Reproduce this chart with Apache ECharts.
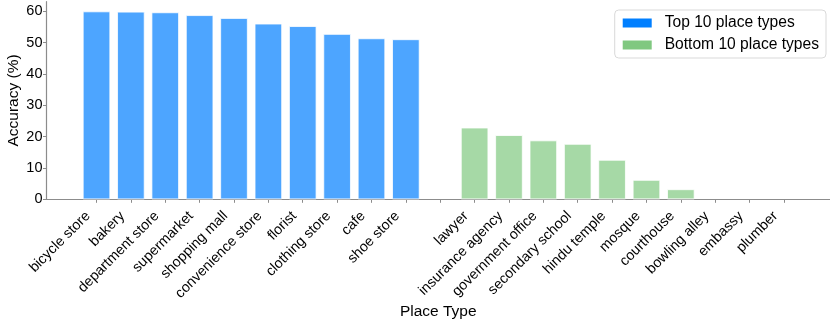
<!DOCTYPE html>
<html>
<head>
<meta charset="utf-8">
<script src="https://cdn.jsdelivr.net/npm/echarts@6/dist/echarts.min.js"></script>
<style>
  html, body { margin: 0; padding: 0; background: #fff; }
  #chart { width: 830px; height: 323px; }
</style>
</head>
<body>
<div id="chart"></div>
<script>
// top 10 / bottom 10 place types by accuracy
const topNames = ['bicycle store', 'bakery', 'department store', 'supermarket', 'shopping mall',
  'convenience store', 'florist', 'clothing store', 'cafe', 'shoe store'];
const topValues = [60.0, 59.9, 59.7, 58.8, 57.9, 56.1, 55.3, 52.8, 51.4, 51.1];

const bottomNames = ['lawyer', 'insurance agency', 'government office', 'secondary school', 'hindu temple',
  'mosque', 'courthouse', 'bowling alley', 'embassy', 'plumber'];
const bottomValues = [22.9, 20.5, 18.8, 17.7, 12.6, 6.2, 3.2, 0, 0, 0];

const yTicks = [0, 10, 20, 30, 40, 50, 60];

// one empty slot between the two groups
const labels = topNames.concat([''], bottomNames);
const positions = labels.map((_, i) => i);

const font = 'Liberation Sans, Arial, Helvetica, sans-serif';
const axisGray = '#8c8c8c';

// zero-height bars: no white edge over the axis line
function toBars(values, offset) {
  return values.map((v, i) => ({
    value: [i + offset, v],
    itemStyle: v === 0 ? { borderWidth: 0 } : undefined
  }));
}

let myChart = echarts.init(document.getElementById('chart'));

let option = {
  animation: false,
  textStyle: { fontFamily: font },
  grid: {
    left: 46.5,
    right: 0,
    top: 1.7,
    bottom: 123.7,
    containLabel: false,
    outerBoundsMode: 'none'
  },
  legend: {
    orient: 'vertical',
    right: 4,
    top: 10,
    padding: [5, 7, 5, 6],
    itemWidth: 31,
    itemHeight: 11,
    itemGap: 6,
    borderColor: '#d9d9d9',
    borderWidth: 1,
    borderRadius: 4,
    icon: 'rect',
    textStyle: {
      fontFamily: font,
      fontSize: 15.6,
      color: '#000',
      lineHeight: 16,
      padding: [0, 0, 0, 7]
    },
    data: [
      { name: 'Top 10 place types', itemStyle: { color: '#007fff' } },
      { name: 'Bottom 10 place types', itemStyle: { color: '#80c880' } }
    ]
  },
  xAxis: {
    type: 'value',
    min: -1.455,
    max: 21.34,
    name: 'Place Type',
    nameLocation: 'middle',
    nameGap: 104,
    nameMoveOverlap: false,
    nameTextStyle: { fontFamily: font, fontSize: 15.5, color: '#000' },
    splitLine: { show: false },
    axisLine: { show: true, onZero: false, lineStyle: { color: axisGray, width: 1.2 } },
    axisTick: {
      show: true,
      length: 3.5,
      customValues: positions,
      lineStyle: { color: axisGray, width: 1 }
    },
    axisLabel: {
      customValues: positions,
      rotate: 45,
      margin: 6,
      padding: [0, 12, 0, 0],
      fontFamily: font,
      fontSize: 14.3,
      color: '#000',
      formatter: v => labels[Math.round(v)] || ''
    }
  },
  yAxis: {
    type: 'value',
    min: 0,
    max: 63.1,
    name: 'Accuracy (%)',
    nameLocation: 'middle',
    nameGap: 24.5,
    nameMoveOverlap: false,
    nameTextStyle: { fontFamily: font, fontSize: 15.5, color: '#000' },
    splitLine: { show: false },
    axisLine: { show: true, onZero: false, lineStyle: { color: axisGray, width: 1.2 } },
    axisTick: {
      show: true,
      length: 3.5,
      customValues: yTicks,
      lineStyle: { color: axisGray, width: 1 }
    },
    axisLabel: {
      customValues: yTicks,
      margin: 4,
      fontFamily: font,
      fontSize: 14.5,
      color: '#000'
    }
  },
  series: [
    {
      name: 'Top 10 place types',
      type: 'bar',
      barWidth: 27.5,
      barGap: '-100%',
      data: toBars(topValues, 0),
      itemStyle: { color: '#4da5ff', borderColor: '#ffffff', borderWidth: 0.8 }
    },
    {
      name: 'Bottom 10 place types',
      type: 'bar',
      barWidth: 27.5,
      barGap: '-100%',
      data: toBars(bottomValues, topNames.length + 1),
      itemStyle: { color: '#a6d9a6', borderColor: '#ffffff', borderWidth: 0.8 }
    }
  ]
};

myChart.setOption(option, true);
window.addEventListener('resize', () => {
  myChart.resize();
});
</script>
</body>
</html>
